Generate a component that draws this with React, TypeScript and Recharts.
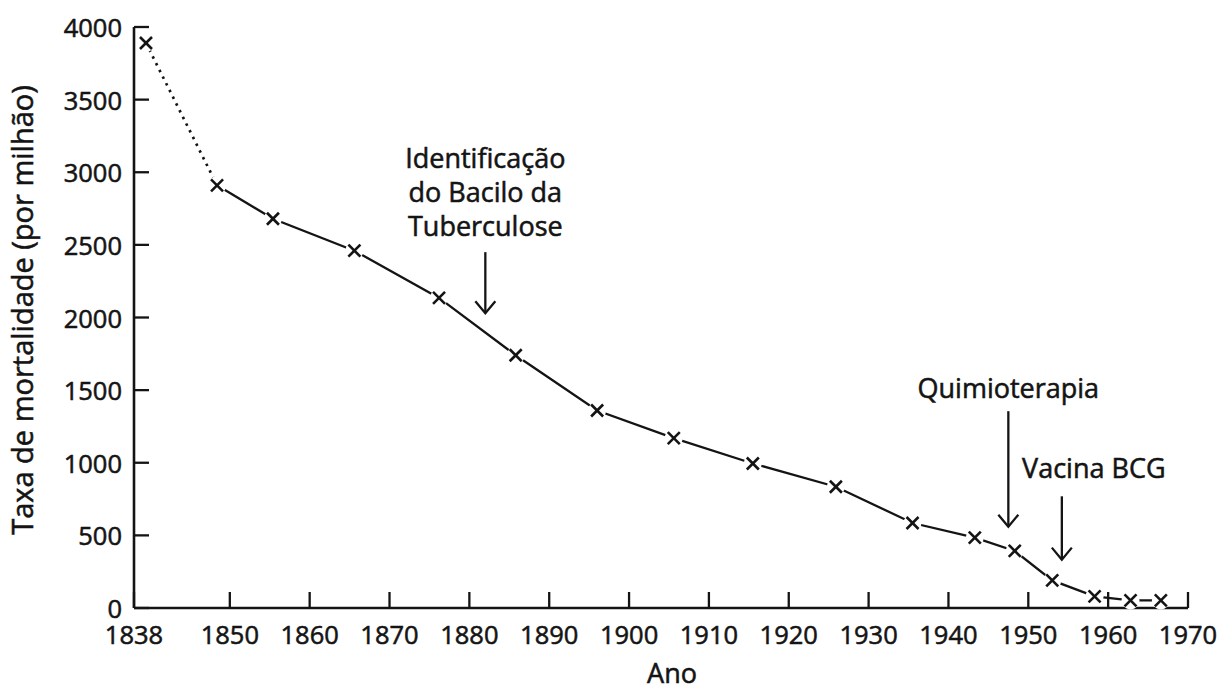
import React from "react";
import { LineChart, Line, XAxis, YAxis, ReferenceLine } from "recharts";

// ---- data ----
const years = [1839.5, 1848.4, 1855.4, 1865.6, 1876.2, 1885.8, 1896.0, 1905.6, 1915.5, 1925.9, 1935.5, 1943.3, 1948.3, 1953.0, 1958.3, 1962.8, 1966.6];
const rates = [3890, 2910, 2680, 2460, 2135, 1740, 1360, 1170, 995, 835, 585, 485, 393, 190, 80, 52, 52];
const dottedUntil = 1; // index of last point of the dotted (estimated) section

const xTicks = [1838, 1850, 1860, 1870, 1880, 1890, 1900, 1910, 1920, 1930, 1940, 1950, 1960, 1970];
const yTicks = [0, 500, 1000, 1500, 2000, 2500, 3000, 3500, 4000];

const annYears = [1882, 1947.5, 1954.2];
const annTop = [2450, 1355, 769];
const annTip = [2030, 560, 333];
const annLabels = [["Identificação", "do Bacilo da", "Tuberculose"], ["Quimioterapia"], ["Vacina BCG"]];

const xTitle = "Ano";
const yTitle = "Taxa de mortalidade (por milhão)";

// ---- styles ----
const FONT = "'Open Sans', sans-serif";
const INK = "#141414";
const TEXT_STROKE = 0.55;
const annDx = [0, 0, 32];
const annGap = [16, 13, 18];

const chartData = years.map((year, i) => ({
  year,
  early: i <= dottedUntil ? rates[i] : null,
  main: i >= dottedUntil ? rates[i] : null,
}));

const Marker = (props: any) => {
  const { cx, cy, key } = props;
  if (cx == null || cy == null || isNaN(cx) || isNaN(cy)) return <g key={key} />;
  const s = 6;
  return (
    <g key={key}>
      <circle cx={cx} cy={cy} r={9} fill="#fff" stroke="none" />
      <line x1={cx - s} y1={cy - s} x2={cx + s} y2={cy + s} stroke={INK} strokeWidth={2.6} />
      <line x1={cx - s} y1={cy + s} x2={cx + s} y2={cy - s} stroke={INK} strokeWidth={2.6} />
    </g>
  );
};

const txt = { fontFamily: FONT, fill: INK, stroke: INK, strokeWidth: TEXT_STROKE };

const XTick = (props: any) => {
  const { x, y, payload } = props;
  return (
    <g>
      <line x1={x} y1={y} x2={x} y2={y - 16} stroke={INK} strokeWidth={2.3} />
      <text x={x} y={y + 36} textAnchor="middle" fontSize={25.5} {...txt}>
        {payload.value}
      </text>
    </g>
  );
};

const YTick = (props: any) => {
  const { x, y, payload } = props;
  return (
    <g>
      <line x1={x} y1={y} x2={x + 15} y2={y} stroke={INK} strokeWidth={2.3} />
      <text x={x - 12} y={y + 10} textAnchor="end" fontSize={25.5} {...txt}>
        {payload.value}
      </text>
    </g>
  );
};

const makeArrow = (idx: number) => (props: any) => {
  const { x1, y1, x2, y2 } = props;
  const lines = annLabels[idx];
  const tx = x1 + annDx[idx];
  const lastBase = y1 - annGap[idx];
  const lh = 34;
  return (
    <g>
      <line x1={x1} y1={y1} x2={x2} y2={y2} stroke={INK} strokeWidth={2.3} />
      <polyline
        points={`${x2 - 10},${y2 - 12} ${x2},${y2} ${x2 + 10},${y2 - 12}`}
        fill="none"
        stroke={INK}
        strokeWidth={2.3}
      />
      {lines.map((t, i) => (
        <text
          key={i}
          x={tx}
          y={lastBase - (lines.length - 1 - i) * lh}
          textAnchor="middle"
          fontSize={27}
          {...txt}
        >
          {t}
        </text>
      ))}
    </g>
  );
};

export default function App() {
  return (
    <div style={{ position: "absolute", left: 0, top: 0, width: 1227, height: 690, background: "#fff" }}>
      <LineChart width={1227} height={690} data={chartData} margin={{ top: 27, right: 39, left: 34, bottom: 32 }}>
        <Line
          type="linear"
          dataKey="early"
          stroke={INK}
          strokeWidth={2.7}
          strokeDasharray="2.5 5"
          dot={Marker}
          activeDot={false}
          isAnimationActive={false}
          connectNulls={false}
        />
        <Line
          type="linear"
          dataKey="main"
          stroke={INK}
          strokeWidth={2.3}
          dot={Marker}
          activeDot={false}
          isAnimationActive={false}
          connectNulls={false}
        />
        {annYears.map((yr, i) => (
          <ReferenceLine
            key={i}
            segment={[
              { x: yr, y: annTop[i] },
              { x: yr, y: annTip[i] },
            ]}
            stroke={INK}
            shape={makeArrow(i)}
          />
        ))}
        <XAxis
          dataKey="year"
          type="number"
          domain={[1838, 1970]}
          ticks={xTicks}
          interval={0}
          height={50}
          tickLine={false}
          tickSize={0}
          tickMargin={0}
          axisLine={{ stroke: INK, strokeWidth: 2.6 }}
          tick={XTick}
          label={{
            content: (p: any) => {
              const vb = p.viewBox || {};
              return (
                <text
                  x={vb.x + vb.width / 2 + 11}
                  y={683}
                  textAnchor="middle"
                  fontSize={27}
                  {...txt}
                >
                  {xTitle}
                </text>
              );
            },
          }}
        />
        <YAxis
          type="number"
          domain={[0, 4000]}
          ticks={yTicks}
          interval={0}
          width={100}
          tickLine={false}
          tickSize={0}
          tickMargin={0}
          axisLine={{ stroke: INK, strokeWidth: 2.6 }}
          tick={YTick}
          label={{
            content: () => (
              <text
                x={33}
                y={310}
                transform="rotate(-90 33 310)"
                textAnchor="middle"
                fontSize={29}
                {...txt}
              >
                {yTitle}
              </text>
            ),
          }}
        />
      </LineChart>
    </div>
  );
}
